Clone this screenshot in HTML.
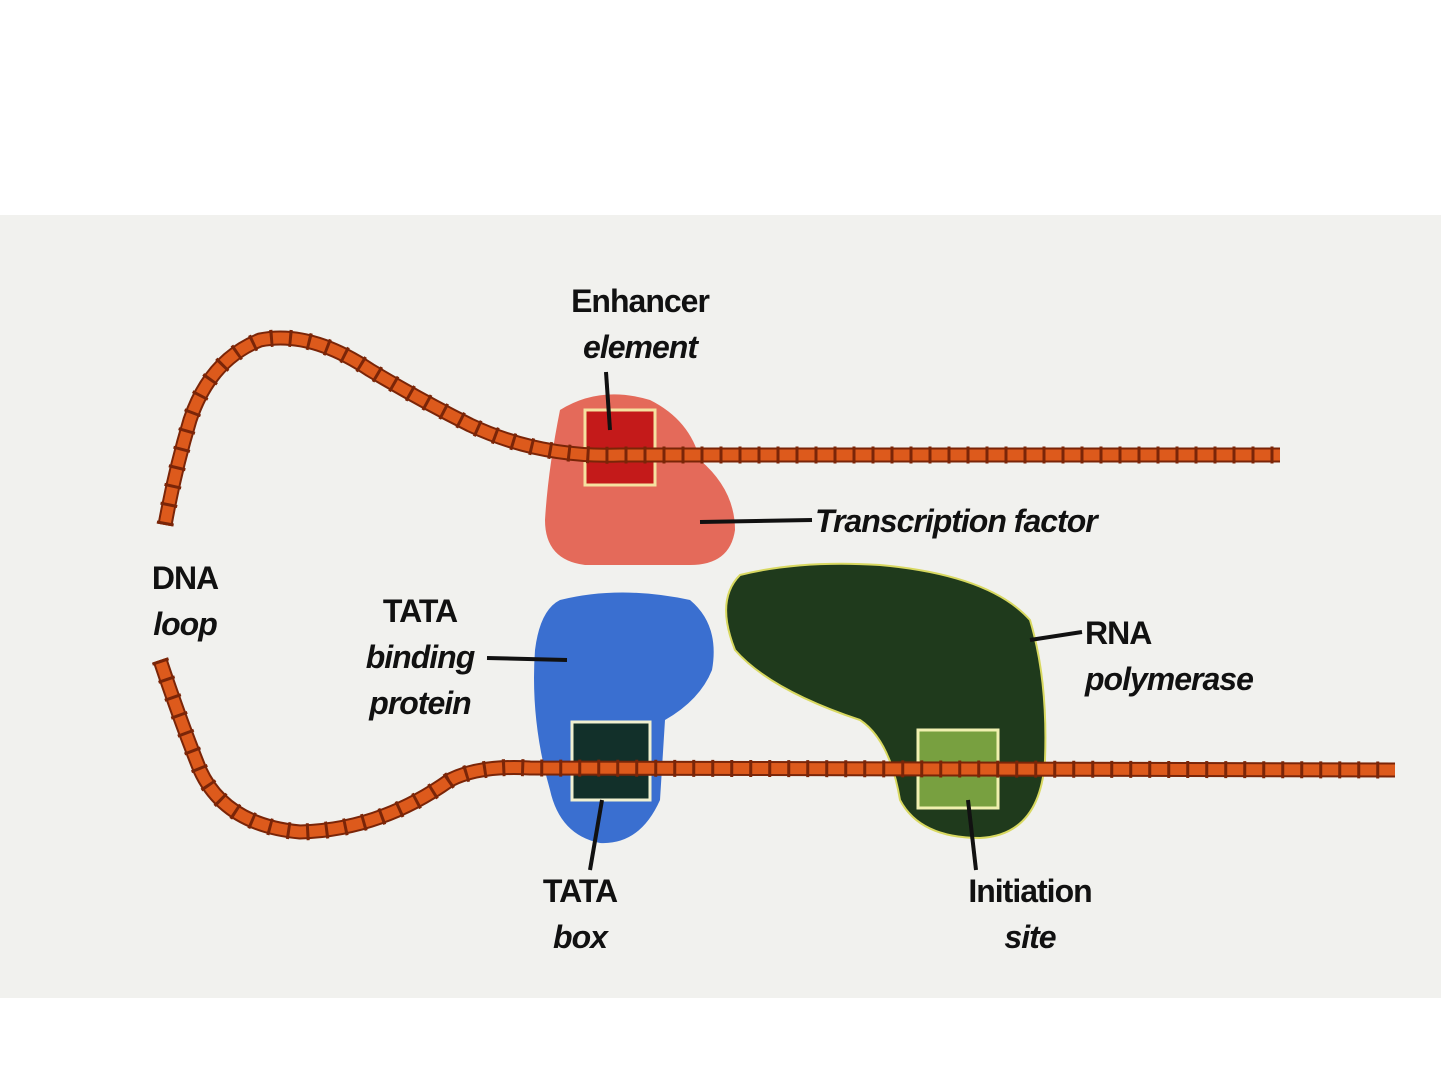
<!DOCTYPE html>
<html><head><meta charset="utf-8"><style>
body{margin:0;width:1441px;height:1081px;background:#fff;overflow:hidden;position:relative;font-family:"Liberation Sans",sans-serif}
#panel{position:absolute;left:0;top:215px;width:1441px;height:783px;background:#f1f1ee}
.t{position:absolute;font-size:32px;color:#111;line-height:46px;text-align:center;font-weight:bold;letter-spacing:-1px}
.i{font-style:italic}
</style></head><body>
<div id="panel"></div>
<svg width="1441" height="1081" style="position:absolute;left:0;top:0">
<path d="M560 410 Q600 385 650 400 Q690 420 700 460 Q735 490 735 530 Q730 565 690 565 L585 565 Q545 560 545 520 Q548 470 560 410Z" fill="#e46a5a"/>
<rect x="585" y="410" width="70" height="75" fill="#c41a1a" stroke="#f5e2a0" stroke-width="3"/>
<path d="M560 600 Q620 585 690 600 Q720 625 712 670 Q700 700 665 720 L660 800 Q640 845 600 843 Q560 835 550 790 Q530 720 535 650 Q540 610 560 600Z" fill="#3a6fd0"/>
<rect x="572" y="722" width="78" height="78" fill="#12302a" stroke="#f0f0d0" stroke-width="3"/>
<path d="M740 575 Q800 560 880 565 Q990 575 1030 620 Q1048 680 1045 760 Q1040 835 980 838 Q920 838 900 800 Q890 740 860 720 Q770 690 735 650 Q715 600 740 575Z" fill="#1f3a1c" stroke="#d8d860" stroke-width="2"/>
<rect x="918" y="730" width="80" height="78" fill="#78a040" stroke="#f0f0b0" stroke-width="3"/>
<g fill="none" stroke-linecap="round">
<path id="d1" d="M165 525 Q175 470 190 420 Q210 360 260 340 Q310 330 370 370 Q420 400 470 425 Q540 458 620 455 L1280 455"/>
<path id="d2" d="M160 660 Q180 720 200 770 Q225 825 300 832 Q380 830 450 780 Q480 765 530 768 L1395 770"/>
</g>
<use href="#d1" stroke="#7a2508" stroke-width="15" fill="none"/>
<use href="#d1" stroke="#dd5a1c" stroke-width="11" fill="none"/>
<use href="#d1" stroke="#7a2508" stroke-width="17" stroke-dasharray="3 16" fill="none"/>
<use href="#d2" stroke="#7a2508" stroke-width="15" fill="none"/>
<use href="#d2" stroke="#dd5a1c" stroke-width="11" fill="none"/>
<use href="#d2" stroke="#7a2508" stroke-width="17" stroke-dasharray="3 16" fill="none"/>
<g stroke="#111" stroke-width="4">
<line x1="606" y1="372" x2="610" y2="430"/>
<line x1="700" y1="522" x2="812" y2="520"/>
<line x1="487" y1="658" x2="567" y2="660"/>
<line x1="1030" y1="640" x2="1082" y2="632"/>
<line x1="602" y1="800" x2="590" y2="870"/>
<line x1="968" y1="800" x2="976" y2="870"/>
</g>
</svg>
<div class="t" style="left:545px;top:278px;width:190px">Enhancer<br><span class="i">element</span></div>
<div class="t i" style="left:815px;top:498px">Transcription factor</div>
<div class="t" style="left:130px;top:555px;width:110px">DNA<br><span class="i">loop</span></div>
<div class="t" style="left:345px;top:588px;width:150px">TATA<br><span class="i">binding<br>protein</span></div>
<div class="t" style="left:1085px;top:610px;width:200px;text-align:left">RNA<br><span class="i">polymerase</span></div>
<div class="t" style="left:520px;top:868px;width:120px">TATA<br><span class="i">box</span></div>
<div class="t" style="left:940px;top:868px;width:180px">Initiation<br><span class="i">site</span></div>
</body></html>
